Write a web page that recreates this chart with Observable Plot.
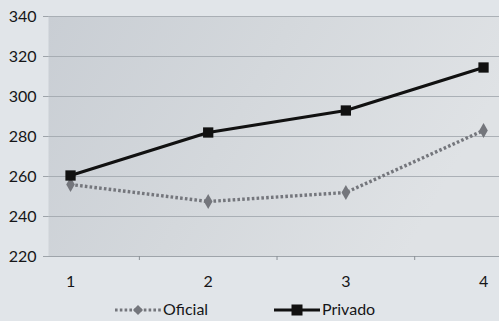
<!DOCTYPE html>
<html>
<head>
<meta charset="utf-8">
<script src="https://cdn.jsdelivr.net/npm/d3@7"></script>
<script src="https://cdn.jsdelivr.net/npm/@observablehq/plot@0.6"></script>
<style>
  html, body { margin: 0; padding: 0; background: #e1e5e9; }
  body { width: 499px; height: 321px; overflow: hidden; font-family: Lato, "Open Sans", sans-serif; }
  #legend { display: flex; height: 25px; align-items: center; font-size: 16px; color: #161618; }
  #legend .item { display: flex; align-items: center; position: absolute; }
</style>
</head>
<body>
<div id="chart"></div>
<div id="legend"></div>
<script>
// Quarterly values for the two series
const periods = [1, 2, 3, 4];
const oficial = [256, 247.5, 252, 283];
const privado = [260.5, 282, 293, 314.5];
const seriesNames = ["Oficial", "Privado"];
const yTicks = [220, 240, 260, 280, 300, 320, 340];

const rows = periods.flatMap((p, i) => [
  {period: p, value: oficial[i], series: seriesNames[0]},
  {period: p, value: privado[i], series: seriesNames[1]}
]);
const of = rows.filter(d => d.series === "Oficial");
const pr = rows.filter(d => d.series === "Privado");

const chart = Plot.plot({
  width: 499,
  height: 296,
  marginTop: 16,
  marginBottom: 40,
  marginLeft: 48,
  marginRight: 0,
  style: {background: "transparent", fontFamily: "Lato, 'Open Sans', sans-serif", fontSize: "16px", color: "#161618"},
  x: {type: "linear", domain: [0.84, 4.116]},
  y: {domain: [220, 340]},
  marks: [
    Plot.frame({fill: "url(#plotbg)", stroke: null}),
    Plot.gridY(yTicks, {stroke: "#9ea4aa", strokeOpacity: 0.8, strokeWidth: 1}),
    Plot.ruleY([220], {stroke: "#9ea4aa", strokeWidth: 1}),
    Plot.axisY(yTicks, {tickSize: 5, tickPadding: 7, stroke: "#9ea4aa", fill: "#161618", label: null}),
    Plot.axisX(periods, {tickSize: 0, tickPadding: 19, tickFormat: d => String(d), fill: "#161618", label: null}),
    Plot.axisX([1.5, 2.5, 3.5], {tickSize: 4, tickFormat: () => "", stroke: "#8a9096", label: null}),
    Plot.line(of, {x: "period", y: "value", stroke: "#74767c", strokeWidth: 3.4, strokeDasharray: "2.6 2.2", strokeLinecap: "butt"}),
    Plot.dot(of, {x: "period", y: "value", symbol: "diamond", r: 4.5, fill: "#74767c", stroke: null}),
    Plot.line(pr, {x: "period", y: "value", stroke: "#111", strokeWidth: 3}),
    Plot.dot(pr, {x: "period", y: "value", symbol: "square", r: 5.8, fill: "#111", stroke: null})
  ]
});

// Gradient fill for the plotting area
const svg = d3.select(chart);
const defs = svg.insert("defs", ":first-child");
const grad = defs.append("linearGradient").attr("id", "plotbg")
  .attr("x1", "0").attr("y1", "0").attr("x2", "1").attr("y2", "0.3");
grad.append("stop").attr("offset", "0").attr("stop-color", "#c9ced4");
grad.append("stop").attr("offset", "0.5").attr("stop-color", "#d4d8dc");
grad.append("stop").attr("offset", "1").attr("stop-color", "#dfe2e5");
document.getElementById("chart").appendChild(chart);

// Legend below the chart
const legend = d3.select("#legend").style("position", "relative");
const items = [
  {name: seriesNames[0], x: 115, dash: "2.6 2.2", color: "#74767c", sym: "diamond"},
  {name: seriesNames[1], x: 274, dash: null, color: "#111", sym: "square"}
];
for (const it of items) {
  const div = legend.append("div").attr("class", "item").style("left", it.x + "px").style("top", "3px");
  const s = div.append("svg").attr("width", 47).attr("height", 18);
  s.append("line").attr("x1", 0).attr("x2", 46).attr("y1", 10).attr("y2", 10)
    .attr("stroke", it.color).attr("stroke-width", 3).attr("stroke-dasharray", it.dash);
  if (it.sym === "diamond") {
    s.append("path").attr("d", "M23,5 L28,10 L23,15 L18,10Z").attr("fill", it.color);
  } else {
    s.append("rect").attr("x", 17.5).attr("y", 4.5).attr("width", 11).attr("height", 11).attr("fill", it.color);
  }
  div.append("span").text(it.name).style("margin-left", "1px");
}
</script>
</body>
</html>
